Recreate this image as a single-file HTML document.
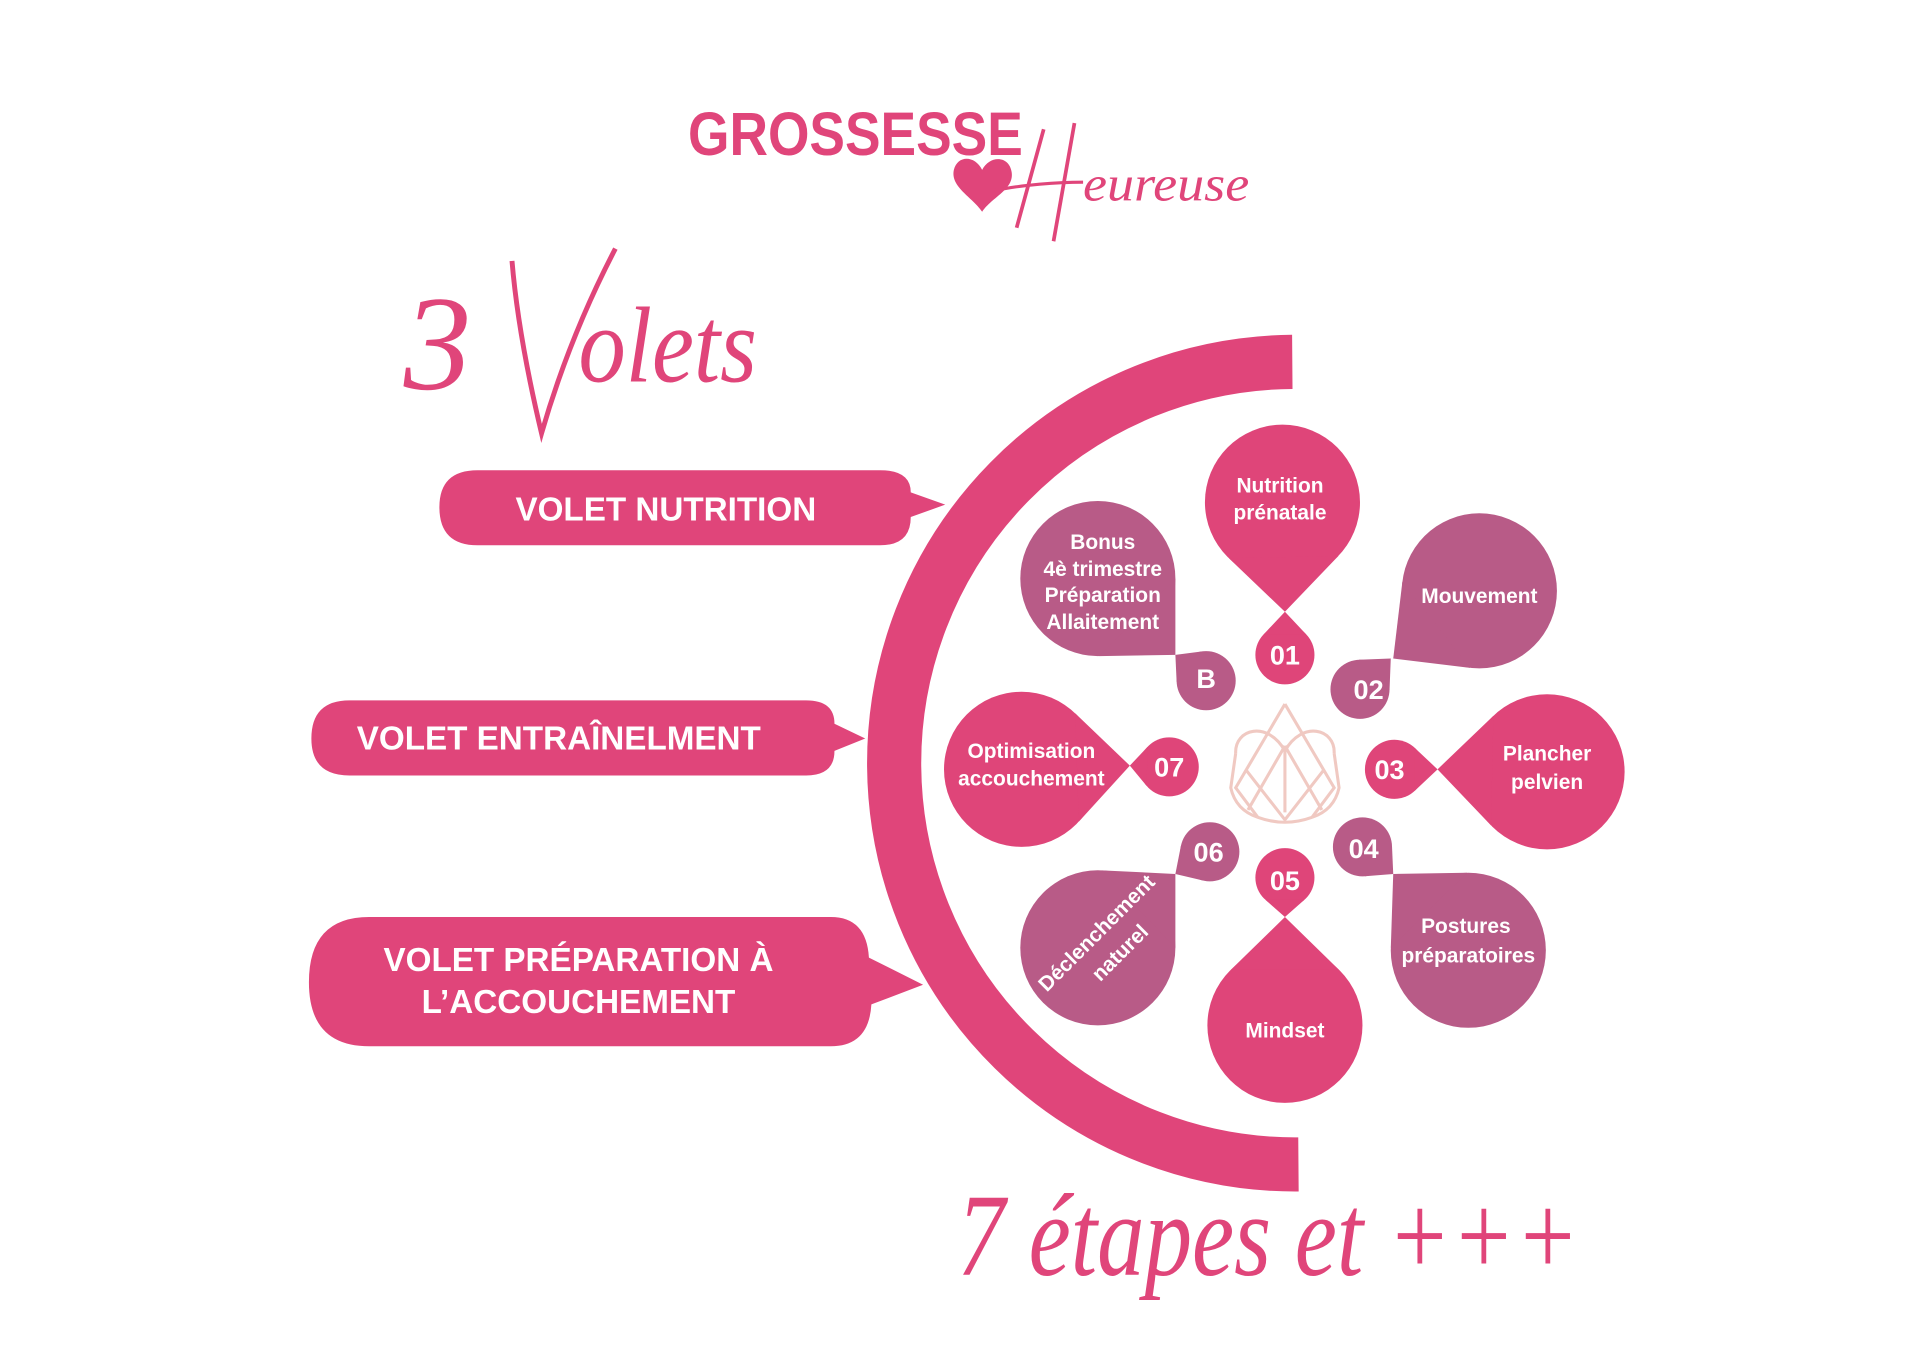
<!DOCTYPE html>
<html><head><meta charset="utf-8"><style>
html,body{margin:0;padding:0;background:#fff;}
svg{display:block;}
.w{fill:#fff;font-family:"Liberation Sans",sans-serif;font-weight:bold;}
</style></head><body>
<svg id="s" width="1920" height="1354" viewBox="0 0 1560 1100" preserveAspectRatio="none" xmlns="http://www.w3.org/2000/svg">
<rect width="1560" height="1100" fill="#fff"/>
<!-- title -->
<text x="559" y="126" font-family="Liberation Sans, sans-serif" font-weight="bold" font-size="50" fill="#e0457a" textLength="272" lengthAdjust="spacingAndGlyphs">GROSSESSE</text>
<path d="M798,172 C790,160 772,152 775,138 C778,126 792,126 798,138 C804,126 820,126 822,140 C824,154 806,160 798,172 Z" fill="#e0457a"/>
<line x1="848" y1="105" x2="826" y2="185" stroke="#e0457a" stroke-width="3"/>
<line x1="873" y1="100" x2="856" y2="196" stroke="#e0457a" stroke-width="3"/>
<path d="M808,155 C830,150 860,148 880,148" stroke="#e0457a" stroke-width="2.5" fill="none"/>
<text x="880" y="163" font-family="Liberation Serif, serif" font-style="italic" font-size="40" fill="#e0457a" textLength="135" lengthAdjust="spacingAndGlyphs">eureuse</text>
<!-- 3 Volets -->
<text x="328" y="316" font-family="Liberation Serif, serif" font-style="italic" font-size="110" fill="#e0457a">3</text>
<path d="M416,212 C420,260 430,310 440,352 C455,300 475,250 500,202" stroke="#e0457a" stroke-width="4" fill="none"/>
<text x="470" y="310" font-family="Liberation Serif, serif" font-style="italic" font-size="88" fill="#e0457a" textLength="145" lengthAdjust="spacingAndGlyphs">olets</text>
<!-- arc -->
<path d="M1050,294 A326,326 0 0 0 1055,946" stroke="#e0457a" stroke-width="44" fill="none"/>
<!-- pills -->
<path d="M388,382 L715,382 Q740,382 740,400 L768,410 L740,420 Q740,443 715,443 L388,443 Q357,443 357,412 Q357,382 388,382 Z" fill="#e0457a"/>
<text class="w" x="541" y="423" font-size="27" text-anchor="middle">VOLET NUTRITION</text>
<path d="M284,569 L655,569 Q678,569 678,588 L703,600 L678,610 Q678,630 655,630 L284,630 Q253,630 253,600 Q253,569 284,569 Z" fill="#e0457a"/>
<text class="w" x="454" y="609" font-size="27" text-anchor="middle">VOLET ENTRAÎNELMENT</text>
<path d="M300,745 L675,745 Q704,745 706,778 L750,800 L708,816 Q706,850 675,850 L300,850 Q251,850 251,798 Q251,745 300,745 Z" fill="#e0457a"/>
<text class="w" x="470" y="789" font-size="27" text-anchor="middle">VOLET PRÉPARATION À</text>
<text class="w" x="470" y="823" font-size="27" text-anchor="middle">L’ACCOUCHEMENT</text>
<g id="drops"></g>
<!-- center logo -->
<g stroke="#f0c9c2" stroke-width="2.5" fill="none">
<path d="M1044,572 L1004,640 L1022,664 M1044,572 L1084,640 L1066,664 M1044,606 L1014,658 M1044,606 L1074,658 M1022,664 Q1044,672 1066,664"/>
<path d="M1044,610 C1030,585 1003,592 1004,612 M1044,610 C1058,585 1085,592 1084,612 M1004,612 L1000,640 Q1004,658 1022,664 M1084,612 L1088,640 Q1084,658 1066,664 M1044,606 L1044,660 M1012,625 L1044,666 L1076,625"/>
</g>
<!-- bottom -->
<text x="778" y="1036" font-family="Liberation Serif, serif" font-style="italic" font-size="96" fill="#e0457a" textLength="505" lengthAdjust="spacingAndGlyphs">7 étapes  et  +++</text>
</svg>
<script>
var P="#df4579",M="#b85b87",g=document.getElementById("drops"),NS="http://www.w3.org/2000/svg";
function drop(cx,cy,r,tx,ty,c){var dx=tx-cx,dy=ty-cy,d=Math.hypot(dx,dy),a=Math.atan2(dy,dx),t=Math.acos(r/d);
var p1=[cx+r*Math.cos(a+t),cy+r*Math.sin(a+t)],p2=[cx+r*Math.cos(a-t),cy+r*Math.sin(a-t)];
var e=document.createElementNS(NS,"circle");e.setAttribute("cx",cx);e.setAttribute("cy",cy);e.setAttribute("r",r);e.setAttribute("fill",c);g.appendChild(e);
var p=document.createElementNS(NS,"polygon");p.setAttribute("points",tx+","+ty+" "+p1+" "+p2);p.setAttribute("fill",c);g.appendChild(p);}
function txt(x,y,s,l,rot){var t=document.createElementNS(NS,"text");t.setAttribute("class","w");t.setAttribute("x",x);t.setAttribute("y",y);t.setAttribute("font-size",s);t.setAttribute("text-anchor","middle");if(rot)t.setAttribute("transform","rotate("+rot+" "+x+" "+y+")");t.textContent=l;g.appendChild(t);}
drop(1042,408,63,1044,497,P);drop(1202,480,63,1132,535,M);drop(1257,627,63,1168,625,P);drop(1193,772,63,1132,710,M);
drop(1044,833,63,1044,745,P);drop(892,770,63,955,710,M);drop(830,625,63,918,622,P);drop(892,470,63,955,532,M);
drop(1044,532,24,1044,497,P);drop(1105,560,24,1130,535,M);drop(1133,625,24,1168,625,P);drop(1107,688,24,1132,710,M);
drop(1044,713,24,1044,745,P);drop(983,692,24,955,710,M);drop(950,623,24,918,622,P);drop(980,553,24,955,532,M);
txt(1044,540,22,"01");txt(1112,568,22,"02");txt(1129,633,22,"03");txt(1108,697,22,"04");txt(1044,723,22,"05");txt(982,700,22,"06");txt(950,631,22,"07");txt(980,559,22,"B");
txt(1040,400,17,"Nutrition");txt(1040,422,17,"prénatale");txt(1202,490,17,"Mouvement");txt(1257,618,17,"Plancher");txt(1257,641,17,"pelvien");
txt(1191,758,17,"Postures");txt(1193,782,17,"préparatoires");txt(1044,843,17,"Mindset");txt(838,616,17,"Optimisation");txt(838,638,17,"accouchement");
txt(896,446,17,"Bonus");txt(896,468,17,"4è trimestre");txt(896,489,17,"Préparation");txt(896,511,17,"Allaitement");
txt(895,762,17,"Déclenchement",-45);txt(914,778,17,"naturel",-45);
</script>
</body></html>
